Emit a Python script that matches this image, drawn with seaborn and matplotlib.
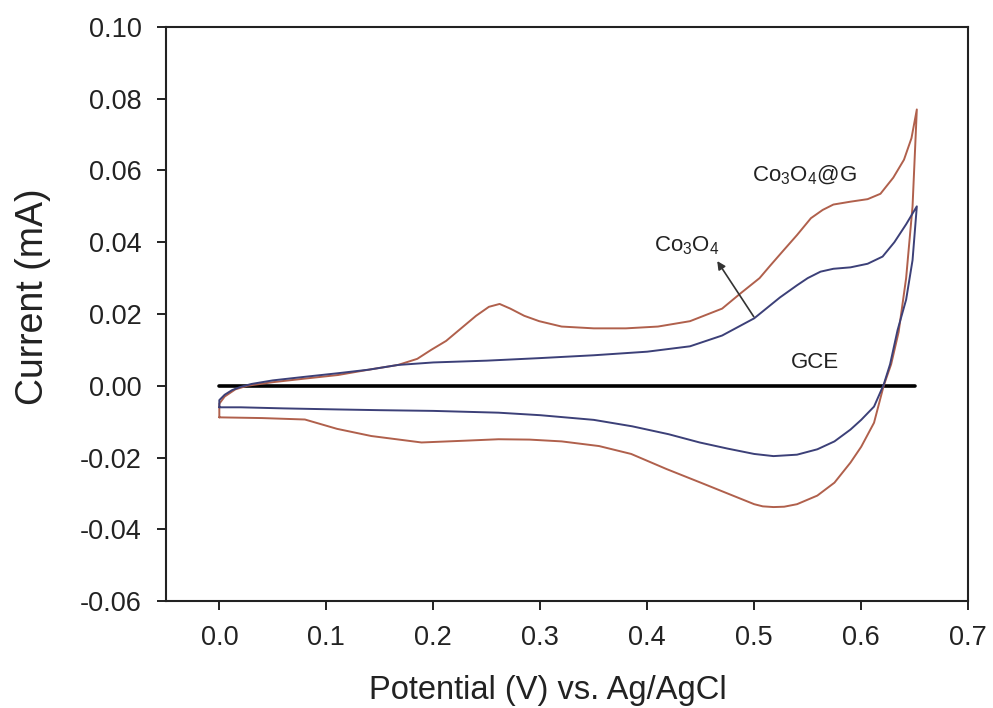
import pandas as pd
import numpy as np
import matplotlib.pyplot as plt
import seaborn as sns

# Co3O4@G  (anodic sweep 0 -> 0.65 V, then cathodic back)
g_an_E = [0.0, 0.0, 0.005, 0.015, 0.026, 0.05, 0.08, 0.111, 0.14, 0.167, 0.185, 0.198, 0.212, 0.224,
          0.240, 0.252, 0.262, 0.272, 0.285, 0.299, 0.32, 0.35, 0.38, 0.41, 0.44, 0.47, 0.487, 0.505,
          0.515, 0.527, 0.540, 0.553, 0.564, 0.574, 0.590, 0.606, 0.618, 0.630, 0.640, 0.647, 0.652]
g_an_I = [-0.0088, -0.005, -0.003, -0.001, 0.0, 0.001, 0.002, 0.003, 0.0045, 0.0058, 0.0075, 0.010,
          0.0125, 0.0155, 0.0195, 0.022, 0.0228, 0.0215, 0.0195, 0.018, 0.0165, 0.016, 0.016, 0.0165,
          0.018, 0.0215, 0.0257, 0.030, 0.0335, 0.0376, 0.042, 0.0467, 0.049, 0.0505, 0.0513, 0.052,
          0.0535, 0.058, 0.063, 0.069, 0.077]
g_ca_E = [0.652, 0.648, 0.642, 0.635, 0.628, 0.621, 0.612, 0.600, 0.590, 0.575, 0.559, 0.540, 0.528,
          0.518, 0.508, 0.50, 0.480, 0.45, 0.418, 0.385, 0.355, 0.32, 0.29, 0.261, 0.23, 0.189, 0.142,
          0.11, 0.08, 0.04, 0.0]
g_ca_I = [0.077, 0.05, 0.03, 0.015, 0.006, 0.0, -0.0103, -0.017, -0.0214, -0.027, -0.0306, -0.0330,
          -0.0337, -0.0338, -0.0336, -0.0330, -0.0306, -0.027, -0.0232, -0.019, -0.0168, -0.0155,
          -0.015, -0.0149, -0.0153, -0.0158, -0.014, -0.012, -0.0094, -0.009, -0.0088]

# Co3O4
c_an_E = [0.0, 0.0, 0.005, 0.012, 0.02, 0.03, 0.05, 0.08, 0.111, 0.14, 0.167, 0.2, 0.25, 0.299, 0.35,
          0.40, 0.44, 0.47, 0.50, 0.524, 0.540, 0.55, 0.562, 0.574, 0.590, 0.606, 0.620, 0.631, 0.642,
          0.652]
c_an_I = [-0.006, -0.004, -0.0025, -0.0012, -0.0003, 0.0005, 0.0015, 0.0025, 0.0035, 0.0045, 0.0058,
          0.0065, 0.007, 0.0077, 0.0085, 0.0095, 0.011, 0.014, 0.0188, 0.0246, 0.028, 0.030, 0.0318,
          0.0326, 0.0330, 0.034, 0.036, 0.040, 0.045, 0.050]
c_ca_E = [0.652, 0.648, 0.642, 0.634, 0.627, 0.621, 0.612, 0.600, 0.590, 0.575, 0.559, 0.540, 0.518,
          0.50, 0.475, 0.449, 0.42, 0.386, 0.35, 0.30, 0.261, 0.20, 0.15, 0.111, 0.06, 0.02, 0.0]
c_ca_I = [0.050, 0.035, 0.024, 0.0155, 0.006, 0.0003, -0.0058, -0.0095, -0.0122, -0.0155, -0.0177,
          -0.0192, -0.0196, -0.019, -0.0175, -0.0158, -0.0135, -0.0113, -0.0095, -0.0082, -0.0075,
          -0.007, -0.0068, -0.0066, -0.0063, -0.006, -0.006]

# bare GCE
gce_E = [0.0, 0.65]
gce_I = [0.0, 0.0]

x_ticks = [0.0, 0.1, 0.2, 0.3, 0.4, 0.5, 0.6, 0.7]
y_ticks = [-0.06, -0.04, -0.02, 0.00, 0.02, 0.04, 0.06, 0.08, 0.10]

sns.set_style("ticks")
plt.rcParams['font.family'] = ['Liberation Sans', 'DejaVu Sans']
plt.rcParams['mathtext.default'] = 'regular'

df = pd.concat([
    pd.DataFrame({"E": g_an_E + g_ca_E, "I": g_an_I + g_ca_I, "sample": "Co3O4@G"}),
    pd.DataFrame({"E": c_an_E + c_ca_E, "I": c_an_I + c_ca_I, "sample": "Co3O4"}),
], ignore_index=True)
gce = pd.DataFrame({"E": gce_E, "I": gce_I})

fig = plt.figure(figsize=(9.93, 7.08), dpi=100)
ax = fig.add_axes([0.167, 0.151, 0.808, 0.811])

sns.lineplot(data=gce, x="E", y="I", color="black", lw=2.6, ax=ax, zorder=2)
sns.lineplot(data=df, x="E", y="I", hue="sample", sort=False, estimator=None,
             palette={"Co3O4@G": "#b0604c", "Co3O4": "#3c4078"}, lw=1.4,
             solid_joinstyle="round", legend=False, ax=ax, zorder=3)

ax.set_xlim(-0.05, 0.7)
ax.set_ylim(-0.06, 0.10)
ax.set_xticks(x_ticks)
ax.set_xticklabels([f"{v:.1f}" for v in x_ticks])
ax.set_yticks(y_ticks)
ax.set_yticklabels([f"{v:.2f}" for v in y_ticks])
ax.tick_params(labelsize=19.5, length=6.5, width=1.4, colors="#222222", pad=11)
for s in ax.spines.values():
    s.set_linewidth(1.5)
    s.set_color("#222222")

ax.set_xlabel("Potential (V) vs. Ag/AgCl", fontsize=23.5, color="#222222")
ax.set_ylabel("Current (mA)", fontsize=27, color="#222222")
ax.xaxis.set_label_coords(0.476, -0.128)
ax.yaxis.set_label_coords(-0.143, 0.53)

ax.text(0.547, 0.0585, "Co$_3$O$_4$@G", fontsize=16, ha="center", va="center", color="#222222")
ax.text(0.437, 0.039, "Co$_3$O$_4$", fontsize=16, ha="center", va="center", color="#222222")
ax.text(0.557, 0.0064, "GCE", fontsize=16, ha="center", va="center", color="#222222")
ax.annotate("", xy=(0.464, 0.0354), xytext=(0.501, 0.0186),
            arrowprops=dict(arrowstyle="-|>", color="#333333", lw=1.2, mutation_scale=12))

fig.savefig("out.png", dpi=100)
